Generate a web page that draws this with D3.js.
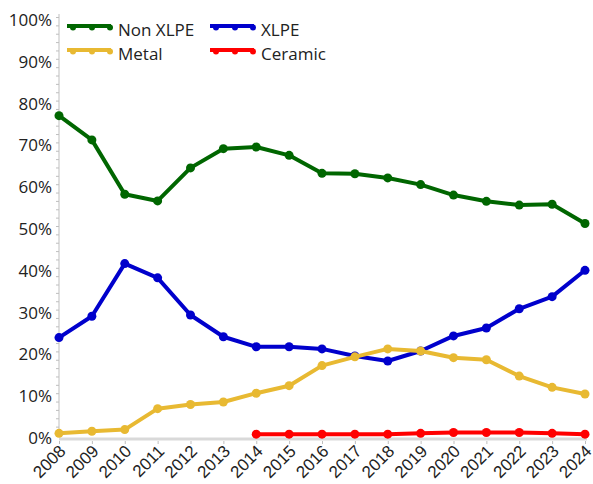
<!DOCTYPE html>
<html>
<head>
<meta charset="utf-8">
<script src="https://cdn.jsdelivr.net/npm/d3@7"></script>
<style>
  body { margin: 0; background: #fff; }
  svg { display: block; font-family: "Segoe UI", "Open Sans", sans-serif; }
</style>
</head>
<body>
<svg id="chart" width="593" height="484"></svg>
<script>
const years = [2008, 2009, 2010, 2011, 2012, 2013, 2014, 2015, 2016, 2017, 2018, 2019, 2020, 2021, 2022, 2023, 2024];
const nonXlpe = [76.4, 70.6, 57.6, 56.0, 63.9, 68.5, 68.9, 66.9, 62.6, 62.5, 61.5, 59.9, 57.4, 55.9, 55.0, 55.2, 50.6];
const xlpe = [23.3, 28.4, 41.0, 37.6, 28.7, 23.5, 21.1, 21.1, 20.6, 18.9, 17.7, 20.1, 23.7, 25.6, 30.2, 33.1, 39.4];
const metal = [0.4, 0.9, 1.3, 6.3, 7.3, 7.9, 10.0, 11.8, 16.6, 18.7, 20.6, 20.1, 18.5, 18.0, 14.1, 11.4, 9.8];
const ceramicYears = [2014, 2015, 2016, 2017, 2018, 2019, 2020, 2021, 2022, 2023, 2024];
const ceramic = [0.2, 0.2, 0.2, 0.2, 0.2, 0.4, 0.6, 0.6, 0.6, 0.4, 0.2];
const yTicks = [0, 10, 20, 30, 40, 50, 60, 70, 80, 90, 100];

const series = [
  { name: "Non XLPE", color: "#006600", x: years, y: nonXlpe },
  { name: "XLPE", color: "#0000cc", x: years, y: xlpe },
  { name: "Metal", color: "#e8b932", x: years, y: metal },
  { name: "Ceramic", color: "#ff0000", x: ceramicYears, y: ceramic }
];

const svg = d3.select("#chart");

const x = d3.scaleLinear().domain([2008, 2024]).range([59, 585]);
const y = d3.scaleLinear().domain([0, 100]).range([435, 17]);

// x axis band
svg.append("line")
  .attr("x1", 59).attr("x2", 587)
  .attr("y1", 439).attr("y2", 439)
  .attr("stroke", "#d9d9d9").attr("stroke-width", 3);

const xAxis = svg.append("g")
  .attr("transform", "translate(0,441)")
  .call(d3.axisBottom(x).tickValues(years).tickFormat(d3.format("d")).tickSize(3));
xAxis.select(".domain").remove();
xAxis.selectAll(".tick line").attr("stroke", "#bfbfbf");
xAxis.selectAll(".tick text")
  .attr("font-size", 17)
  .attr("fill", "#222")
  .attr("text-anchor", "end")
  .attr("x", 0)
  .attr("y", 0)
  .attr("dy", "0.35em")
  .attr("transform", "translate(3,7) rotate(-45)");

// y axis with minor ticks
const yAxis = svg.append("g")
  .attr("transform", "translate(59,0)")
  .call(d3.axisLeft(y).tickValues(d3.range(0, 101, 2)).tickSize(3).tickFormat(""));
yAxis.select(".domain").attr("stroke", "#bfbfbf").attr("d", `M0,${y(100) - 3}V${y(0)}`);
yAxis.selectAll(".tick line").attr("stroke", "#bfbfbf");

svg.append("g")
  .selectAll("text")
  .data(yTicks)
  .join("text")
  .attr("x", 52)
  .attr("y", d => y(d) + 3)
  .attr("text-anchor", "end")
  .attr("dy", "0.35em")
  .attr("font-size", 17)
  .attr("fill", "#222")
  .text(d => d + "%");

const line = d3.line().x(d => x(d[0])).y(d => y(d[1]));

series.forEach(s => {
  const pts = s.x.map((yr, i) => [yr, s.y[i]]);
  const g = svg.append("g");
  g.append("path")
    .datum(pts)
    .attr("d", line)
    .attr("fill", "none")
    .attr("stroke", s.color)
    .attr("stroke-width", 4)
    .attr("stroke-linejoin", "round");
  g.selectAll("circle")
    .data(pts)
    .join("circle")
    .attr("cx", d => x(d[0]))
    .attr("cy", d => y(d[1]))
    .attr("r", 4.5)
    .attr("fill", s.color);
});

// legend
const legendPos = [[67, 26], [210, 26], [67, 50], [210, 50]];
const legend = svg.append("g")
  .selectAll("g")
  .data(series)
  .join("g")
  .attr("transform", (d, i) => `translate(${legendPos[i][0]},${legendPos[i][1]})`);
legend.append("line")
  .attr("x1", 0).attr("x2", 44)
  .attr("stroke", d => d.color).attr("stroke-width", 4);
legend.selectAll("circle")
  .data(d => [6, 25, 43].map(cx => ({ cx, color: d.color })))
  .join("circle")
  .attr("cx", d => d.cx).attr("cy", 1.5).attr("r", 3)
  .attr("fill", d => d.color);
legend.append("text")
  .attr("x", 51)
  .attr("y", 4)
  .attr("dy", "0.35em")
  .attr("font-size", 17)
  .attr("fill", "#222")
  .text(d => d.name);
</script>
</body>
</html>
